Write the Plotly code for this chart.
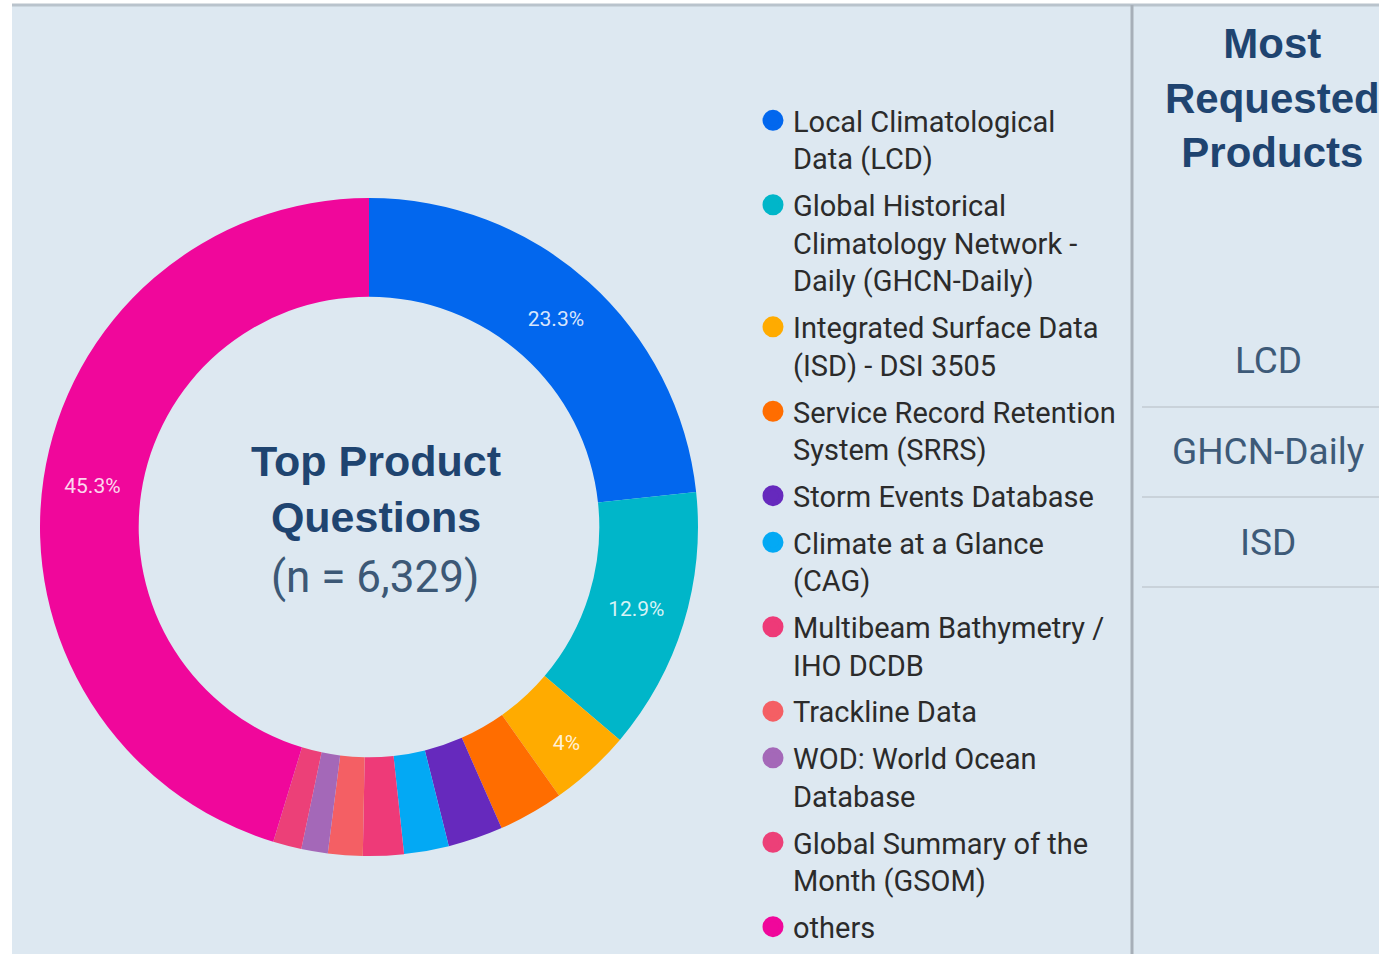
import plotly.graph_objects as go

# ---- data ----
labels = [
    "Local Climatological<br>Data (LCD)",
    "Global Historical<br>Climatology Network -<br>Daily (GHCN-Daily)",
    "Integrated Surface Data<br>(ISD) - DSI 3505",
    "Service Record Retention<br>System (SRRS)",
    "Storm Events Database",
    "Climate at a Glance<br>(CAG)",
    "Multibeam Bathymetry /<br>IHO DCDB",
    "Trackline Data",
    "WOD: World Ocean<br>Database",
    "Global Summary of the<br>Month (GSOM)",
    "others",
]
values = [23.3, 12.9, 4.0, 3.2, 2.7, 2.2, 2.0, 1.7, 1.3, 1.4, 45.3]
shown_labels = [True, True, True, False, False, False, False, False, False, False, True]
colors = ["#0267ee", "#00b6c9", "#ffab00", "#ff6d00", "#6629bd", "#03a9f4",
          "#ee3a78", "#f45f64", "#a468b8", "#ec4078", "#f0079b"]

center_title = "Top Product<br>Questions"
center_sub = "(n = 6,329)"
side_title = "Most<br>Requested<br>Products"
side_items = ["LCD", "GHCN-Daily", "ISD"]

W, H = 1379, 954
BG = "#dde8f1"

def px(x):
    return x / W

def py(y):
    return 1 - y / H

slice_text = [f"{v:g}%" if s else "" for v, s in zip(values, shown_labels)]

fig = go.Figure()
fig.add_trace(go.Pie(
    labels=labels, values=values, sort=False, direction="clockwise", rotation=0,
    hole=0.70, marker=dict(colors=colors, line=dict(width=0)),
    text=slice_text, textinfo="text", textposition="inside",
    insidetextorientation="horizontal",
    insidetextfont=dict(family="Roboto", size=21, color="rgba(255,255,255,0.85)"),
    domain=dict(x=[px(40), px(698)], y=[py(856), py(198)]),
    showlegend=False, hoverinfo="label+percent",
))

for i, (lab, col) in enumerate(zip(labels, colors)):
    fig.add_trace(go.Scatter(
        x=[None], y=[None], mode="markers", name=lab, legendgroup=f"g{i}",
        marker=dict(symbol="circle", size=16, color=col, line=dict(color=col, width=5)),
    ))

shapes = [
    dict(type="rect", xref="paper", yref="paper", x0=px(12), x1=1, y0=0, y1=py(5),
         fillcolor=BG, line=dict(width=0), layer="below"),
    dict(type="line", xref="paper", yref="paper", x0=px(12), x1=1, y0=py(5), y1=py(5),
         line=dict(color="#b9c3cc", width=3)),
    dict(type="line", xref="paper", yref="paper", x0=px(1132), x1=px(1132), y0=0, y1=py(5),
         line=dict(color="#a7afb8", width=3)),
]
for yy in [407, 497, 587]:
    shapes.append(dict(type="line", xref="paper", yref="paper", x0=px(1142), x1=1,
                       y0=py(yy), y1=py(yy), line=dict(color="#c9d2da", width=2)))

annotations = [
    dict(text=f"<b>{center_title}</b>", x=px(376), y=py(489), xref="paper", yref="paper",
         showarrow=False, xanchor="center", yanchor="middle",
         font=dict(family="Liberation Sans", size=43, color="#1f4470")),
    dict(text=center_sub, x=px(375), y=py(577), xref="paper", yref="paper",
         showarrow=False, xanchor="center", yanchor="middle",
         font=dict(family="Roboto", size=44, color="#3c5876")),
    dict(text=f"<b>{side_title}</b>", x=px(1272), y=py(98), xref="paper", yref="paper",
         showarrow=False, xanchor="center", yanchor="middle",
         font=dict(family="Liberation Sans", size=42, color="#1f4470")),
]
for item, yy in zip(side_items, [360, 451, 542]):
    annotations.append(dict(text=item, x=px(1268), y=py(yy), xref="paper", yref="paper",
                            showarrow=False, xanchor="center", yanchor="middle",
                            font=dict(family="Roboto", size=37, color="#3d5a78")))

fig.update_layout(
    width=W, height=H, margin=dict(l=0, r=0, t=0, b=0),
    paper_bgcolor="white", plot_bgcolor="rgba(0,0,0,0)",
    xaxis=dict(visible=False), yaxis=dict(visible=False),
    shapes=shapes, annotations=annotations,
    legend=dict(x=px(753), y=py(95), xanchor="left", yanchor="top", valign="top",
                bgcolor="rgba(0,0,0,0)", tracegroupgap=6, traceorder="grouped",
                font=dict(family="Roboto", size=29, color="#2b2b2b")),
)

fig.write_html("out.html")
